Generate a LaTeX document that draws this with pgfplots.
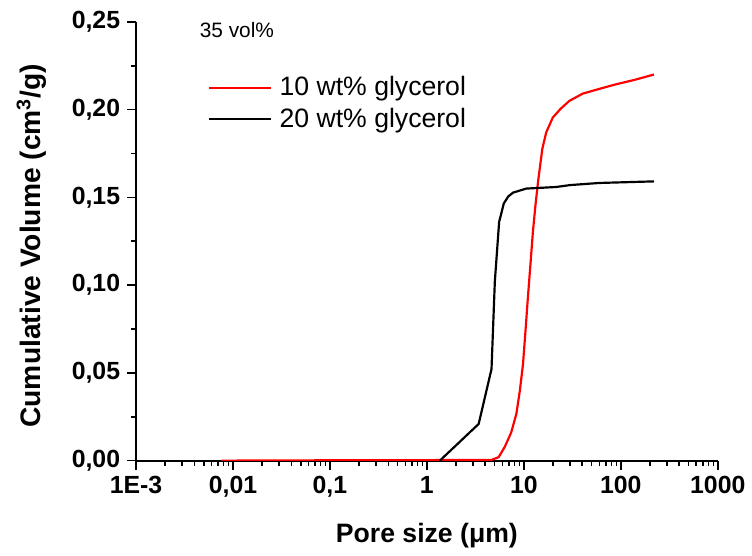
\documentclass[border=0pt]{standalone}
\usepackage{fontspec}
\setmainfont{Liberation Sans}
\usepackage{pgfplots}
\pgfplotsset{compat=1.18}
\begin{document}
\begin{tikzpicture}
\begin{axis}[name=ax,
  scale only axis, width=293pt, height=221pt,
  xmode=log, xmin=1e-3, xmax=1000, ymin=0, ymax=0.25,
  axis x line=bottom, axis y line=left,
  axis line style={-, line width=0.9pt},
  tick align=outside, major tick length=4.5pt, minor tick length=2.5pt,
  tick style={line width=0.8pt, black},
  xtick={1e-3,1e-2,0.1,1,10,100,1000},
  xticklabels={1E-3,{0,01},{0,1},1,10,100,1000},
  ytick={0,0.05,0.1,0.15,0.2,0.25},
  minor y tick num=1,
  yticklabel style={/pgf/number format/.cd, fixed, fixed zerofill, precision=2, use comma},
  /pgf/number format/assume math mode=true,
  ticklabel style={font=\fontsize{12.5}{15}\selectfont\bfseries},
  xlabel={Pore size (μm)},
  ylabel={Cumulative Volume (cm\textsuperscript{3}/g)},
  xlabel style={font=\fontsize{13.4}{16}\selectfont\bfseries, at={(rel axis cs:0.5,0)}, anchor=center, yshift=-38pt},
  ylabel style={font=\fontsize{14.2}{17}\selectfont\bfseries, at={(rel axis cs:0,0.49)}, anchor=center, yshift=52.5pt},
  legend image code/.code={\draw[#1] (0pt,0pt) -- (31pt,0pt);},
  legend cell align=left,
  legend style={draw=none, fill=none, inner sep=0pt, row sep=4.6pt, column sep=4pt,
    nodes={inner sep=0pt}, font=\fontsize{13.4}{16}\selectfont,
    at={(rel axis cs:0.123,0.876)}, anchor=north west},
]
\addplot[red, line width=1.1pt] coordinates {
(0.0076,0) (0.1,0.0002) (1,0.0003) (4.64,0.0004) (5.5,0.002) (6.36,0.0079) (7.4,0.016)
(8.38,0.0268) (9.1,0.04) (9.8,0.055) (10.4,0.074) (11.0,0.0928) (11.7,0.112) (12.4,0.1305)
(13.2,0.146) (14.0,0.1588) (15.5,0.1776) (17.0,0.187) (19.9,0.1955) (24,0.2005) (29.5,0.205)
(40.5,0.2091) (60,0.2118) (89,0.2144) (140,0.217) (220,0.22)};
\addlegendentry{10 wt\% glycerol}
\addplot[black, line width=1.1pt] coordinates {
(1.36,0) (3.42,0.0209) (4.64,0.0522) (5.02,0.102) (5.56,0.136) (6.21,0.1465) (6.9,0.1505)
(7.74,0.1527) (10.6,0.155) (21.5,0.1559) (30,0.157) (60,0.1582) (220,0.1591)};
\addlegendentry{20 wt\% glycerol}
\node[font=\fontsize{10.5}{12}\selectfont] at (rel axis cs:0.1735,0.982) {35 vol\%};
\end{axis}
\path (ax.south west) ++(-68.5pt,-44.5pt) rectangle ++(376pt,276.5pt);
\end{tikzpicture}
\end{document}
